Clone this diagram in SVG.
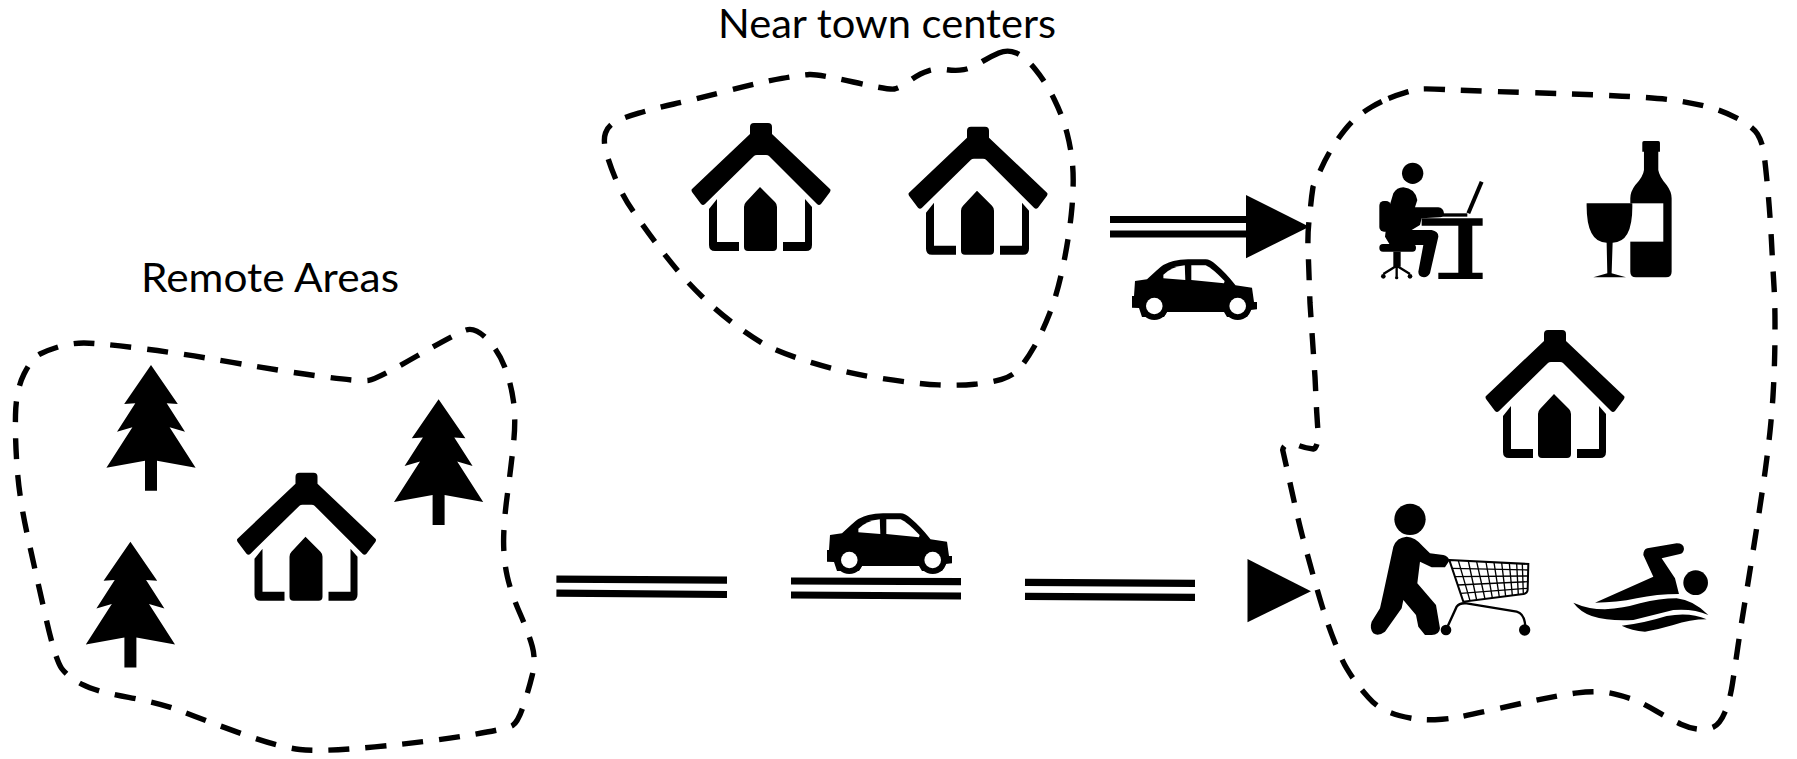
<svg xmlns="http://www.w3.org/2000/svg" xmlns:xlink="http://www.w3.org/1999/xlink" width="1797" height="759" viewBox="0 0 1797 759">
<style>
.blob{fill:none;stroke:#000;stroke-width:5.4;stroke-dasharray:21 16}
.lbl{font-family:"Lato","Liberation Sans",sans-serif;font-size:40px;fill:#000}
.road{stroke:#000;stroke-width:7.2;fill:none}
.k{fill:#000}
</style>
<defs>
<g id="house">
<path class="k" d="M70 17Q70 13 74 13H88Q92 13 92 17V24L150 79Q151 80 150 82L141 94Q139 96 137 94L89 46Q88 45 86 45H77Q75 45 74 46L25 94Q23 96 21 94L12 82Q11 80 12 79L70 24Z"/>
<path class="k" d="M29 99L37 89V132H59V141H35Q29 141 29 135Z"/>
<path class="k" d="M125 89L132 97V135Q132 141 126 141H103V132H125Z"/>
<path class="k" d="M80 77L95 92Q97 94 97 97V137Q97 141 93 141H68Q64 141 64 137V97Q64 94 66 92Z"/>
</g>
<path id="tree" class="k" d="M0 0L26.8 39L15.7 38.3L34 66.7L18.6 62.3L44.6 102.7L6 95.7V125.7H-6V95.7L-44.6 102.7L-18.6 62.3L-34 66.7L-15.7 38.3L-26.8 39Z"/>
<g id="car">
<path class="k" d="M3 22L15 20.3L24 12Q32 4 41.4 2Q48 0.3 56 0.3H73.7Q78 0.3 83.6 5.3Q94 14 103.5 26.3L120 28.7L122 43H125V50.3L118.5 51L115 58H95L92 53H35L32 58H10L7 49L0 48.7V37H2Z"/>
<circle class="k" cx="22.3" cy="47" r="14"/><circle class="k" cx="105.7" cy="47" r="14"/>
<circle cx="22.3" cy="47" r="8.3" fill="#fff"/><circle cx="105.7" cy="47" r="8.3" fill="#fff"/>
<path fill="#fff" d="M31.4 15.7Q40 7.5 52.8 6.3L53.3 21L31.4 19.3Z"/>
<path fill="#fff" d="M59.3 6.3H73.7Q80 9 92.6 22L92 24.3L59.3 21Z"/>
</g>
</defs>

<g id="connectors">
<path class="road" d="M1110 219.5H1246M1110 234H1246"/>
<polygon class="k" points="1246,195 1246,258.3 1309.3,226.7"/>
<path class="road" d="M556.4 579.2L727 580.2M556.4 593.2L727 594.5"/>
<path class="road" d="M791 581L961 581.7M791 595L961 596"/>
<path class="road" d="M1025 582.3L1195 583.3M1025 596.3L1195 597.3"/>
<polygon class="k" points="1247.5,559 1247.5,622.3 1311,591.3"/>
</g>

<g id="remote-areas">
<text class="lbl" x="141" y="292" textLength="258" lengthAdjust="spacingAndGlyphs">Remote Areas</text>
<path class="blob" d="M466 330Q475 327 486.5 338.5Q498 350 504.5 366.5Q511 383 513.5 401.5Q516 420 513.5 443.5Q511 467 507.3 495Q503.6 523 503.6 541.5Q503.6 560 507.3 576.5Q511 593 519.8 613Q528.6 633 532.3 646.5Q536 660 532.3 675Q528.6 690 523.3 706Q518 722 512.5 725.5Q507 729 467.8 735.4Q428.6 741.7 374.8 746.9Q321 752 299.8 749.5Q278.6 747 241.1 733.5Q203.6 720 182.2 711.5Q160.7 703 128.6 697.4Q96.4 691.7 82.2 684.4Q68 677 61.7 668.5Q55.4 660 45.6 616.5Q35.7 573 27.7 536.5Q19.6 500 17.3 470Q15 440 15.5 415Q16 390 24 374Q32 358 40 354Q48 350 59.7 346.5Q71.4 343 83.9 343Q96.4 343 137.5 348Q178.6 353 232.2 362.4Q285.7 371.7 323.2 376.7Q360.7 381.7 368.8 380.4Q376.8 379 416.9 356Q457 333 466 330"/>
<use href="#tree" x="151" y="365"/>
<use href="#tree" x="438.6" y="399.3"/>
<use href="#tree" x="130.4" y="541.7"/>
<use href="#house" x="225.5" y="459.7"/>
</g>

<g id="near-town-centers">
<text class="lbl" x="718" y="38" textLength="338" lengthAdjust="spacingAndGlyphs">Near town centers</text>
<path class="blob" d="M998.8 53Q1007.6 49.3 1016.3 53Q1025 56.7 1035.2 69.2Q1045.5 81.7 1054.2 99.2Q1062.8 116.7 1067.1 133.4Q1071.4 150 1072.7 166.5Q1074 183 1071.9 208Q1069.7 233 1063.7 263Q1057.6 293 1049.8 313Q1042 333 1034.3 346.5Q1026.6 360 1019.8 368Q1013 376 1001.5 379.4Q990 382.7 974.5 384.2Q959 385.7 938.5 384.9Q918 384 881.8 378.5Q845.5 373 811 362.4Q776.6 351.7 761 342.4Q745.5 333 730.8 321.5Q716 310 703 297.5Q690 285 678 270.9Q666 256.7 654.9 241.7Q643.8 226.7 633.4 211.7Q623 196.7 616 179.9Q609 163 606 151.5Q603 140 605.5 133Q608 126 614.7 122.2Q621.4 118.3 638.7 113.2Q655.9 108 674 104Q692 100 727.4 90.9Q762.8 81.7 781.8 78.4Q800.7 75 809.4 74.5Q818 74 853.3 82Q888.6 90 894.3 89Q900 88 909.9 80.7Q919.7 73.3 928.4 70.8Q937 68.3 946.5 69.7Q956 71 963.7 69.7Q971.4 68.3 980.7 62.5Q990 56.7 998.8 53"/>
<use href="#house" x="680" y="110"/>
<use href="#house" x="897" y="113.7"/>
</g>

<use id="car-top" href="#car" x="1132" y="259"/>
<use id="car-bottom" href="#car" x="827" y="513"/>

<g id="town-center">
<path class="blob" d="M1388.5 98.5Q1397 95 1404.4 92.9Q1411.7 90.7 1416.7 89.5Q1421.7 88.3 1444.9 89.5Q1468 90.7 1522.4 92.4Q1576.7 94 1613.4 95.7Q1650 97.3 1668.4 99.5Q1686.7 101.7 1704.2 105.9Q1721.7 110 1737.4 118.4Q1753 126.7 1757.5 134.2Q1762 141.7 1763.5 150.9Q1765 160 1767.5 186.5Q1770 213 1771.5 241.5Q1773 270 1774 286.5Q1775 303 1775 324Q1775 345 1774.5 362.5Q1774 380 1772.9 397.5Q1771.7 415 1769.9 432.5Q1768 450 1765.5 468.5Q1763 487 1757.4 523.5Q1751.7 560 1745.9 595.9Q1740 631.7 1737.5 649.4Q1735 666.7 1732.5 683.4Q1730 700 1725 712Q1720 724 1713.4 727Q1706.7 730 1698.4 729.2Q1690 728.3 1680.9 724.2Q1671.7 720 1655.9 710.9Q1640 701.7 1631.5 698.9Q1623 696 1614 693.9Q1605 691.7 1595.9 691.7Q1586.7 691.7 1577.4 692.9Q1568 694 1550.5 697.4Q1533 700.7 1497.4 708.7Q1461.7 716.7 1453.4 718Q1445 719.3 1435 719.7Q1425 720 1416.5 719Q1408 718 1399 715.5Q1390 713 1382.5 709Q1375 705 1368.4 697.5Q1361.7 690 1356.7 683.4Q1351.7 676.7 1346.7 668.4Q1341.7 660 1334.9 642.5Q1328 625 1323 609Q1318 593 1313 574.9Q1308 556.7 1303 538.4Q1298 520 1287 469L1282.7 450Q1284 443 1293.3 443.3Q1303 448 1313.3 449Q1318 448 1318 432L1316.7 412L1315 377L1310 303L1308 247Q1307.5 230 1310 213Q1311 200 1313 187Q1313 187 1320.5 170Q1328 153 1338 139Q1348 125 1355.5 118.5Q1363 112 1371.5 107Q1380 102 1388.5 98.5"/>
<use id="house-town" href="#house" x="1474" y="317"/>
<g id="office" transform="translate(1360 130) scale(.3333)">
<circle class="k" cx="158" cy="130" r="32"/>
<rect class="k" x="58" y="213" width="34" height="92" rx="14"/>
<path class="k" d="M100 190Q110 172 130 172Q165 175 172 210L165 232H235Q250 233 252 250Q250 262 240 262L185 265L180 285L155 300H215Q236 305 235 320L210 430Q203 442 192 442Q175 440 175 425L190 345H90L75 320L85 240Z"/>
<rect class="k" x="58" y="342" width="110" height="23" rx="11"/>
<rect class="k" x="100" y="365" width="22" height="45"/>
<path d="M110 407L70 432M110 407L150 432M110 407V440" stroke="#000" stroke-width="7" fill="none"/>
<circle class="k" cx="70" cy="439" r="7"/><circle class="k" cx="150" cy="439" r="7"/><circle class="k" cx="110" cy="443" r="5"/>
<path class="k" d="M185 265H368V287H337V428H368V447H235V428H295V287H185Z"/>
<rect class="k" x="240" y="250" width="82" height="10"/>
<path d="M325 250L365 155" stroke="#000" stroke-width="12" fill="none"/>
</g>
<g id="wine" transform="translate(1290 70) scale(.3333)">
<path class="k" d="M1057 218Q1057 213 1062 213H1105Q1110 213 1110 218V245H1105V300Q1108 320 1130 345Q1145 365 1145 385V605Q1145 622 1128 622H1038Q1021 622 1021 605V385Q1021 365 1036 345Q1060 320 1062 300V245H1057Z"/>
<rect x="1015" y="400" width="105" height="115" fill="#fff"/>
<path class="k" d="M890 400H1027Q1030 518 968 518L965 610L1008 622H910L952 610L950 518Q888 518 890 400Z"/>
</g>
<g id="shopping" transform="translate(1360 490) scale(.3333)">
<circle class="k" cx="150" cy="88" r="47"/>
<path class="k" d="M100 170Q110 142 140 140Q165 140 190 170L210 190L250 195Q265 198 268 212L255 232H215L180 215L172 280L228 345L240 415Q238 435 215 435H195L175 410L168 375L130 330L125 355L75 425Q55 440 40 430Q28 415 35 395L60 355L70 310L85 240Z"/>
<g fill="none" stroke="#000" stroke-width="4">
<path stroke-width="6" d="M268 210L505 222L503 300Q502 310 490 312L310 335Z"/>
<path d="M295 212L330 332M325 213L350 330M350 215L375 327M378 216L397 324M402 217L418 321M425 218L437 319M448 219L457 316M470 220L475 314M487 221L490 312"/>
<path d="M276 235L505 240M285 260L505 258M293 285L505 275M302 310L503 295"/>
<path stroke-width="7" d="M258 420L290 350Q298 338 320 340L470 365Q497 372 496 420"/>
</g>
<circle class="k" cx="258" cy="420" r="16"/><circle class="k" cx="494" cy="420" r="17"/>
</g>
<g id="swimming" transform="translate(1560 530) scale(.3333)">
<circle class="k" cx="407" cy="158" r="37"/>
<path class="k" d="M105 218L280 140L250 75Q250 58 262 55L350 40Q372 40 372 57Q370 70 360 72L305 85L345 145L357 192Q290 192 230 205Q170 218 105 218Z"/>
<path class="k" d="M40 218Q85 238 135 238Q190 235 240 220Q300 205 350 205Q400 210 445 255Q400 235 340 240Q280 255 220 270Q150 275 95 258Q60 245 40 218Z"/>
<path class="k" d="M185 287Q250 280 320 258Q390 245 440 268Q390 268 340 285Q300 297 255 305Q215 302 185 287Z"/>
</g>
</g>
</svg>
